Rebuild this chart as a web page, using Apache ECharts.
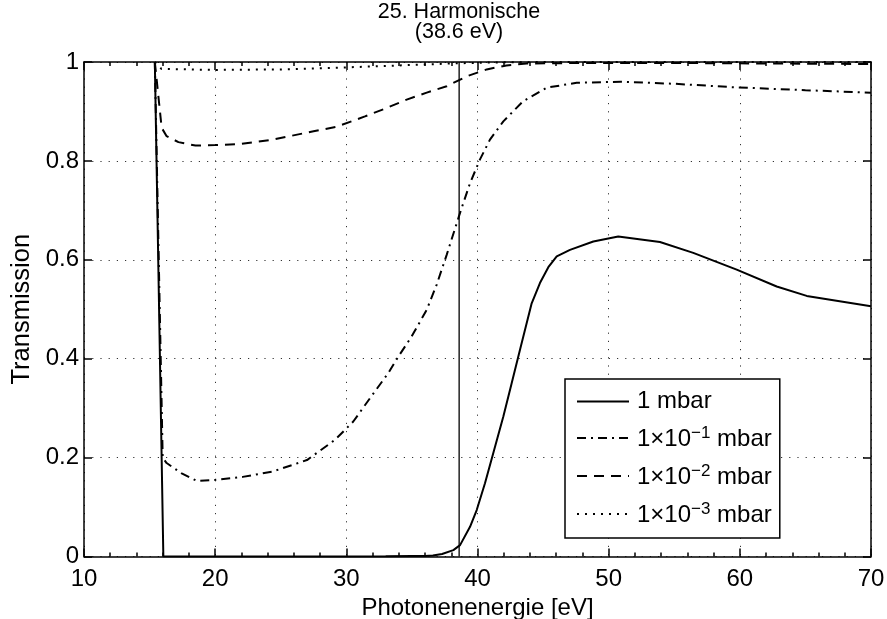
<!DOCTYPE html>
<html><head><meta charset="utf-8">
<script src="https://cdn.jsdelivr.net/npm/echarts@6/dist/echarts.min.js"></script>
<style>html,body{margin:0;padding:0;background:#fff}#c{width:887px;height:619px}</style>
</head><body><div id="c"></div>
<script>
// ---- data ----
const seriesNames = ['1 mbar', '1×10⁻¹ mbar', '1×10⁻² mbar', '1×10⁻³ mbar'];
const legendBase = ['1 mbar', '1×10', '1×10', '1×10'];
const legendExponents = ['', '−1', '−2', '−3'];
const titleLines = ['25. Harmonische', '(38.6 eV)'];
const harmonicEnergy = 38.6;
const xLabel = 'Photonenenergie [eV]';
const yLabel = 'Transmission';

// 1 mbar (solid)
const energy1 = [15.4, 16.05, 20, 25, 30, 33, 35, 36, 36.6, 37.3, 38.16, 38.67, 39.43, 39.94, 40.57, 41.2, 41.97, 42.6, 43.24, 44.13, 44.76, 45.4, 46.04, 47.05, 48.83, 50.73, 53.91, 56.45, 59.76, 62.81, 65.1, 70];
const trans1  = [1, 0, 0, 0, 0, 0.0003, 0.0008, 0.001, 0.002, 0.005, 0.013, 0.023, 0.06, 0.094, 0.148, 0.209, 0.283, 0.35, 0.418, 0.512, 0.553, 0.585, 0.607, 0.62, 0.637, 0.647, 0.636, 0.614, 0.58, 0.546, 0.527, 0.506];
// 1e-1 mbar (dash-dot)
const energy2 = [15.4, 16.0, 16.3, 17.45, 18.6, 20, 22.1, 24.4, 27, 29.14, 30.53, 31.8, 33.2, 33.96, 34.98, 36.13, 36.89, 37.65, 38.67, 39.43, 40.19, 40.95, 41.97, 43.49, 45.27, 47.56, 50.9, 55, 59.5, 65, 70];
const trans2  = [1, 0.2, 0.189, 0.168, 0.153, 0.155, 0.161, 0.172, 0.195, 0.236, 0.273, 0.32, 0.371, 0.404, 0.445, 0.499, 0.55, 0.61, 0.695, 0.755, 0.803, 0.843, 0.88, 0.921, 0.948, 0.958, 0.96, 0.956, 0.949, 0.943, 0.938];
// 1e-2 mbar (dashed)
const energy3 = [15.4, 15.92, 16.3, 17.2, 18.5, 20, 21.9, 24.4, 27.5, 29.26, 31.42, 33.07, 34.6, 36.13, 37.65, 39.18, 40.7, 42.2, 43.75, 47.8, 55, 62, 70];
const trans3  = [1, 0.867, 0.85, 0.838, 0.831, 0.832, 0.834, 0.843, 0.86, 0.869, 0.89, 0.907, 0.924, 0.938, 0.951, 0.971, 0.985, 0.993, 0.997, 0.998, 0.998, 0.997, 0.996];
// 1e-3 mbar (dotted)
const energy4 = [15.4, 15.9, 20, 25, 28.75, 32, 35, 38, 41, 45, 55, 70];
const trans4  = [1, 0.986, 0.984, 0.985, 0.988, 0.991, 0.994, 0.997, 0.999, 1, 1, 1];

// ---- chart ----
const FONT = '"Liberation Sans", Arial, Helvetica, sans-serif';
const zip = (xs, ys) => xs.map((x, i) => [x, ys[i]]);
const dashStyles = ['solid', [9, 5, 2, 5], [10, 7], [2, 6]];
const energies = [energy1, energy2, energy3, energy4];
const transs = [trans1, trans2, trans3, trans4];

const series = seriesNames.map((name, i) => ({
  name: name, type: 'line', xAxisIndex: 0, yAxisIndex: 0,
  data: zip(energies[i], transs[i]), symbol: 'none', silent: true,
  lineStyle: { color: '#000', width: 2, type: dashStyles[i] },
  itemStyle: { color: '#000' }, z: 3
}));
series.push({
  name: 'harmonic', type: 'line', xAxisIndex: 0, yAxisIndex: 0,
  data: [[harmonicEnergy, 0], [harmonicEnergy, 1]], symbol: 'none', silent: true,
  lineStyle: { color: '#000', width: 1.3 }, z: 2
});

const tickStyle = { color: '#000', width: 1.5 };
const axisLineStyle = { color: '#000', width: 1.5 };
const gridLine = { show: true, lineStyle: { color: '#333', width: 1, type: [1.2, 7] } };

const chart = echarts.init(document.getElementById('c'), null, { renderer: 'canvas' });
chart.setOption({
  animation: false,
  backgroundColor: '#fff',
  color: ['#000'],
  grid: { left: 84, right: 16, top: 62, bottom: 62.5, containLabel: false, outerBoundsMode: 'none' },
  graphic: [{
    type: 'text', x: 459, y: 22, silent: true,
    style: { text: titleLines.join('\n'), align: 'center', verticalAlign: 'middle',
      fontSize: 21.5, lineHeight: 19.5, fontFamily: FONT, fill: '#000' }
  }],
  legend: {
    data: seriesNames, orient: 'vertical', left: 565, top: 379,
    padding: [10.5, 8, 10.5, 11], itemWidth: 52, itemHeight: 14, itemGap: 11,
    backgroundColor: '#fff', borderColor: '#000', borderWidth: 1.5, borderRadius: 0,
    selectedMode: false, z: 10,
    itemStyle: { color: 'rgba(0,0,0,0)', borderWidth: 0, opacity: 0 },
    formatter: function (name) {
      const i = seriesNames.indexOf(name);
      if (!legendExponents[i]) return '{m|' + legendBase[i] + '}';
      return '{m|' + legendBase[i] + '}{s|' + legendExponents[i] + '}{n| mbar}';
    },
    textStyle: {
      color: '#000', fontSize: 24, fontFamily: FONT,
      rich: {
        m: { fontSize: 24, lineHeight: 24, verticalAlign: 'bottom', padding: [0, 0, 0, 3], fontFamily: FONT, color: '#000' },
        n: { fontSize: 24, lineHeight: 24, verticalAlign: 'bottom', fontFamily: FONT, color: '#000' },
        s: { fontSize: 17, lineHeight: 27, verticalAlign: 'top', fontFamily: FONT, color: '#000' }
      }
    }
  },
  xAxis: [{
    type: 'value', min: 10, max: 70, interval: 10, position: 'bottom',
    axisLine: { show: true, onZero: false, lineStyle: axisLineStyle },
    axisTick: { show: true, inside: true, length: 8, lineStyle: tickStyle },
    minorTick: { show: true, splitNumber: 5, length: 4, lineStyle: tickStyle },
    axisLabel: { color: '#000', fontSize: 24, fontFamily: FONT, margin: 11, showMinLabel: true, showMaxLabel: true },
    splitLine: gridLine,
    name: xLabel, nameLocation: 'middle', nameGap: 32,
    nameTextStyle: { color: '#000', fontSize: 24, fontFamily: FONT }
  }, {
    type: 'value', min: 10, max: 70, interval: 10, position: 'top',
    axisLine: { show: true, onZero: false, lineStyle: axisLineStyle },
    axisTick: { show: true, inside: true, length: 8, lineStyle: tickStyle },
    minorTick: { show: true, splitNumber: 5, length: 4, lineStyle: tickStyle },
    axisLabel: { show: false }, splitLine: { show: false }
  }],
  yAxis: [{
    type: 'value', min: 0, max: 1, interval: 0.2, position: 'left',
    axisLine: { show: true, onZero: false, lineStyle: axisLineStyle },
    axisTick: { show: true, inside: true, length: 8, lineStyle: tickStyle },
    axisLabel: { color: '#000', fontSize: 24, fontFamily: FONT, margin: 5, showMinLabel: true, showMaxLabel: true },
    splitLine: gridLine,
    name: yLabel, nameLocation: 'middle', nameGap: 44,
    nameTextStyle: { color: '#000', fontSize: 25.5, fontFamily: FONT }
  }, {
    type: 'value', min: 0, max: 1, interval: 0.2, position: 'right',
    axisLine: { show: true, onZero: false, lineStyle: axisLineStyle },
    axisTick: { show: true, inside: true, length: 8, lineStyle: tickStyle },
    axisLabel: { show: false }, splitLine: { show: false }
  }],
  series: series
});
</script>
</body></html>
